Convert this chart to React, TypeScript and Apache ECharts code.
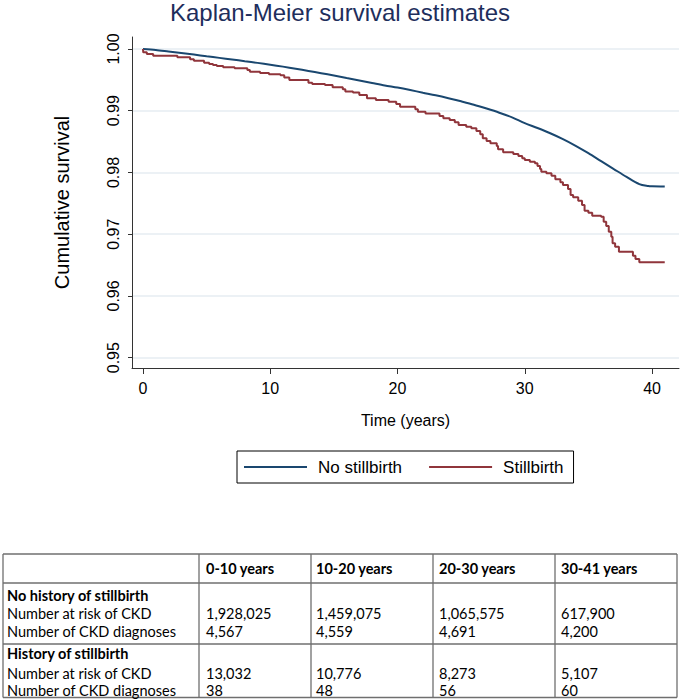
import React, { useEffect, useRef } from "react";
import * as echarts from "echarts";

const TITLE = "Kaplan-Meier survival estimates";
const X_NAME = "Time (years)";
const Y_NAME = "Cumulative survival";
const X_TICKS = [0, 10, 20, 30, 40];
const Y_TICKS = [0.95, 0.96, 0.97, 0.98, 0.99, 1.0];
const SERIES_NAMES = ["No stillbirth", "Stillbirth"];

// No stillbirth: [time, survival]
const NO_STILLBIRTH: number[][] = [
  [0, 1.0], [1, 0.99985], [2, 0.9996], [3, 0.99935], [4, 0.9991], [5, 0.99882],
  [6, 0.99856], [7, 0.9983], [8, 0.99802], [9, 0.99775], [10, 0.99745],
  [11, 0.99714], [12, 0.9968], [13, 0.99645], [14, 0.99608], [15, 0.9957],
  [16, 0.9953], [17, 0.9949], [18, 0.9945], [19, 0.9941], [20, 0.99375],
  [21, 0.99335], [22, 0.99292], [23, 0.9925], [24, 0.99203], [25, 0.99152],
  [26, 0.99098], [27, 0.99035], [28, 0.98968], [29, 0.98893], [30, 0.988],
  [31, 0.9872], [32, 0.98635], [33, 0.9854], [34, 0.98432], [35, 0.98312],
  [36, 0.98183], [37, 0.98055], [38, 0.97928], [39, 0.97812], [39.7, 0.9778],
  [40, 0.97775], [41, 0.97772],
];

// Stillbirth: [time, survival] (Kaplan-Meier steps)
const STILLBIRTH: number[][] = [
  [0, 1.0], [0.02, 0.99946], [0.3, 0.99919], [0.8, 0.99892], [2.7, 0.99865],
  [3.7, 0.99833], [4.0, 0.9981], [4.8, 0.99778], [5.2, 0.99755], [5.5, 0.9974],
  [5.8, 0.99726], [6.3, 0.99703], [7.2, 0.99687], [8.2, 0.9966], [8.4, 0.9963],
  [9.2, 0.99611], [9.9, 0.9959], [10.8, 0.99574], [11.1, 0.9954], [11.5, 0.99498],
  [13.0, 0.99455], [13.3, 0.99433], [14.3, 0.99417], [14.9, 0.9938], [15.7, 0.99347],
  [15.9, 0.9931], [16.5, 0.99294], [17.0, 0.99255], [17.6, 0.99201], [18.3, 0.99174],
  [19.3, 0.99147], [19.9, 0.9911], [20.2, 0.99066], [21.4, 0.99023], [21.6, 0.98985],
  [22.2, 0.98953], [23.3, 0.98915], [23.6, 0.98877], [24.1, 0.9885], [24.5, 0.98812],
  [24.8, 0.98769], [25.4, 0.98742], [25.8, 0.98715], [26.2, 0.98672], [26.5, 0.98618],
  [26.7, 0.98553], [27.0, 0.9851], [27.3, 0.98472], [27.8, 0.98429], [27.9, 0.98375],
  [28.3, 0.98327], [29.1, 0.983], [29.5, 0.98267], [29.8, 0.98229], [30.0, 0.98202],
  [30.4, 0.98175], [30.8, 0.98148], [31.0, 0.98105], [31.2, 0.98056], [31.3, 0.98013],
  [31.7, 0.97986], [32.1, 0.97948], [32.4, 0.97889], [32.8, 0.9784], [33.0, 0.97797],
  [33.4, 0.97732], [33.6, 0.97635], [33.8, 0.97597], [34.2, 0.97543], [34.5, 0.97473],
  [34.7, 0.97381], [35.0, 0.97349], [35.3, 0.973], [36.0, 0.97284], [36.2, 0.97203],
  [36.4, 0.97133], [36.6, 0.97041], [36.8, 0.9696], [36.9, 0.96852], [37.1, 0.96798],
  [37.4, 0.96717], [38.5, 0.96653], [38.7, 0.96599], [39.0, 0.96545], [41.0, 0.96545],
];

// Table
const TABLE_HEADER = ["", "0-10 years", "10-20 years", "20-30 years", "30-41 years"];
const GROUP_NAMES = ["No history of stillbirth", "History of stillbirth"];
const ROW_LABELS = ["Number at risk of CKD", "Number of CKD diagnoses"];
const AT_RISK_NO = ["1,928,025", "1,459,075", "1,065,575", "617,900"];
const DIAG_NO = ["4,567", "4,559", "4,691", "4,200"];
const AT_RISK_YES = ["13,032", "10,776", "8,273", "5,107"];
const DIAG_YES = ["38", "48", "56", "60"];

const BLUE = "#1a476f";
const RED = "#90353b";
const SANS = "Liberation Sans, Arial, sans-serif";
const TABLE_FONT = "Lato, sans-serif";
const TABLE_FS = 14.5;

function buildTable(): any[] {
  const colLines = [3, 199, 311, 433, 555, 677];
  const rowLines = [554, 583, 644, 697.5];
  const lineStyle = { stroke: "#6f6f6f", lineWidth: 1.3 };
  const els: any[] = [];
  colLines.forEach((x) =>
    els.push({ type: "line", shape: { x1: x, y1: rowLines[0], x2: x, y2: rowLines[3] }, style: lineStyle })
  );
  rowLines.forEach((y) =>
    els.push({ type: "line", shape: { x1: colLines[0], y1: y, x2: colLines[5], y2: y }, style: lineStyle })
  );
  const txt = (s: string, x: number, y: number, bold = false) =>
    els.push({
      type: "text",
      x,
      y,
      style: {
        text: s,
        fill: "#000",
        font: `${bold ? "bold " : ""}${TABLE_FS}px ${TABLE_FONT}`,
        lineHeight: TABLE_FS,
        verticalAlign: "middle",
        align: "left",
      },
    });
  const textX = [7, 206, 316, 439, 561];
  TABLE_HEADER.forEach((h, i) => h && txt(h, textX[i], 568, true));
  const groups = [
    { name: GROUP_NAMES[0], rows: [AT_RISK_NO, DIAG_NO], ys: [595, 613, 631] },
    { name: GROUP_NAMES[1], rows: [AT_RISK_YES, DIAG_YES], ys: [653, 673.5, 690.5] },
  ];
  groups.forEach((g) => {
    txt(g.name, textX[0], g.ys[0], true);
    g.rows.forEach((vals, r) => {
      txt(ROW_LABELS[r], textX[0], g.ys[r + 1]);
      vals.forEach((v, c) => txt(v, textX[c + 1], g.ys[r + 1]));
    });
  });
  return els;
}

export default function App() {
  const ref = useRef<HTMLDivElement>(null);
  useEffect(() => {
    if (!ref.current) return;
    const chart = echarts.init(ref.current, undefined, { renderer: "svg" });
    chart.setOption({
      animation: false,
      backgroundColor: "#fff",
      title: {
        text: TITLE,
        left: "center",
        top: -5,
        textStyle: { fontSize: 24, fontWeight: "normal", color: "#1e2e5c", fontFamily: SANS },
      },
      legend: {
        data: SERIES_NAMES,
        left: 237,
        top: 451,
        icon: "rect",
        itemWidth: 63,
        itemHeight: 2,
        itemGap: 27,
        padding: [6, 10, 6, 7],
        borderColor: "#000",
        borderWidth: 1,
        textStyle: { fontSize: 17, fontFamily: SANS, color: "#000", lineHeight: 20, padding: [0, 0, 0, 6] },
      },
      grid: { left: 132, right: 1, top: 37, bottom: 331, containLabel: false },
      xAxis: {
        type: "value",
        min: -0.864,
        max: 42.12,
        name: X_NAME,
        nameLocation: "middle",
        nameGap: 44,
        nameTextStyle: { fontSize: 16, fontFamily: SANS, color: "#000" },
        axisLine: { onZero: false, lineStyle: { color: "#333", width: 1 } },
        axisTick: { length: 6, customValues: X_TICKS, lineStyle: { color: "#333" } },
        axisLabel: { customValues: X_TICKS, fontSize: 16, fontFamily: SANS, color: "#000", margin: 12 },
        splitLine: { show: false },
      },
      yAxis: {
        type: "value",
        min: 0.94833,
        max: 1.00194,
        name: Y_NAME,
        nameLocation: "middle",
        nameGap: 60,
        nameTextStyle: { fontSize: 20, fontFamily: SANS, color: "#000" },
        axisLine: { show: true, onZero: false, lineStyle: { color: "#333", width: 1 } },
        axisTick: { show: true, length: 4, customValues: Y_TICKS, lineStyle: { color: "#333" } },
        axisLabel: {
          customValues: Y_TICKS,
          rotate: 90,
          fontSize: 16,
          fontFamily: SANS,
          color: "#000",
          margin: 11,
          formatter: (v: number) => v.toFixed(2),
        },
        splitLine: { show: true, lineStyle: { color: "#e6edf2", width: 1.5 } },
      },
      series: [
        {
          name: SERIES_NAMES[0],
          type: "line",
          data: NO_STILLBIRTH,
          showSymbol: false,
          smooth: 0.3,
          lineStyle: { color: BLUE, width: 2 },
          itemStyle: { color: BLUE },
        },
        {
          name: SERIES_NAMES[1],
          type: "line",
          data: STILLBIRTH,
          showSymbol: false,
          step: "end",
          lineStyle: { color: RED, width: 2 },
          itemStyle: { color: RED },
        },
      ],
      graphic: buildTable(),
    });
    return () => chart.dispose();
  }, []);
  return (
    <div
      ref={ref}
      style={{ position: "fixed", left: 0, top: 0, width: 680, height: 699, background: "#fff" }}
    />
  );
}
